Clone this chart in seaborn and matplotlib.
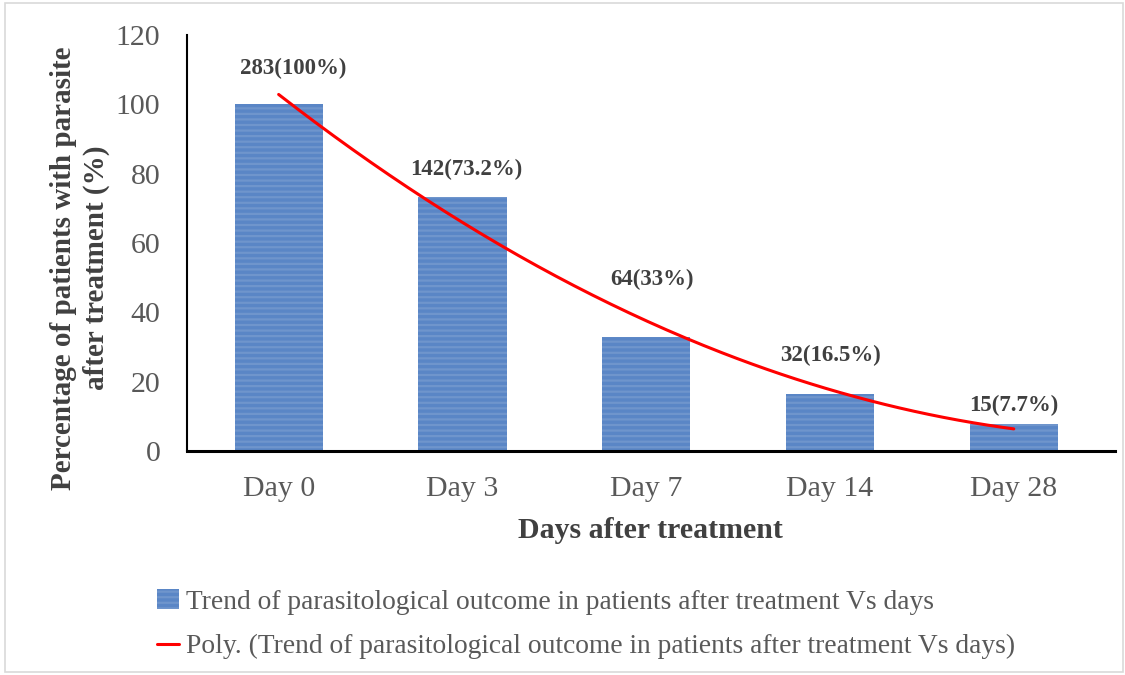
import numpy as np
import pandas as pd
import matplotlib
matplotlib.use("Agg")
import matplotlib.pyplot as plt
import seaborn as sns
from matplotlib.patches import Rectangle

# Data
days = ["Day 0", "Day 3", "Day 7", "Day 14", "Day 28"]
percent = [100, 73.2, 33, 16.5, 7.7]
counts = [283, 142, 64, 32, 15]
bar_labels = ["283(100%)", "142(73.2%)", "64(33%)", "32(16.5%)", "15(7.7%)"]

series_name = "Trend of parasitological outcome in patients after treatment Vs days"

df = pd.DataFrame({"Day": days, "Percent": percent})

sns.set_style("white")
plt.rcParams["font.family"] = ["Liberation Serif", "DejaVu Serif"]
plt.rcParams["hatch.color"] = "#B5CBEA"
plt.rcParams["hatch.linewidth"] = 1.6

fig = plt.figure(figsize=(11.25, 6.75), dpi=100)
ax = fig.add_axes([0.166, 0.332, 0.825, 0.616])

sns.barplot(data=df, x="Day", y="Percent", color="#5A86C6", width=0.48,
            saturation=1, ax=ax, label=series_name)
for bar in ax.patches:
    bar.set_hatch("---")
    bar.set_edgecolor("#6F95CC")
    bar.set_linewidth(0)

# polynomial (order 2) trendline like Excel's
xs = np.arange(len(days))
coef = np.polyfit(xs, percent, 2)
xf = np.linspace(0, len(days) - 1, 200)
ax.plot(xf, np.polyval(coef, xf), color="#FF0000", lw=2.2,
        label="Poly. (" + series_name + ")")

# data labels (nudged like the original)
label_dx = [0.08, 0.02, 0.03, 0.0, 0.0]
label_dy = [10.5, 8, 16.5, 11, 5.5]
for i, txt in enumerate(bar_labels):
    ax.text(i + label_dx[i], percent[i] + label_dy[i], txt, ha="center", va="center",
            fontsize=16.5, fontweight="bold", color="#404040")

ax.set_ylim(0, 120)
ax.set_xlim(-0.5, 4.55)
ax.set_yticks(range(0, 121, 20))
ax.tick_params(axis="both", length=0, labelsize=21.5, labelcolor="#595959")
ax.tick_params(axis="x", pad=18)
ax.tick_params(axis="y", pad=19)

for s in ["top", "right"]:
    ax.spines[s].set_visible(False)
ax.spines["left"].set_color("black")
ax.spines["left"].set_linewidth(1.5)
ax.spines["bottom"].set_color("black")
ax.spines["bottom"].set_linewidth(2.2)

ax.set_xlabel("Days after treatment", fontsize=21.5, fontweight="bold",
              color="#404040", labelpad=11)
ax.set_ylabel("Percentage of patients with parasite\nafter treatment (%)",
              fontsize=21, fontweight="bold", color="#404040", linespacing=1.25)
ax.yaxis.set_label_coords(-0.083, 0.44)

handles, labels = ax.get_legend_handles_labels()
if ax.get_legend() is not None:
    ax.get_legend().remove()
order = sorted(range(len(labels)), key=lambda i: labels[i].startswith("Poly"))
fig.legend([handles[i] for i in order], [labels[i] for i in order],
           loc="upper left", bbox_to_anchor=(0.130, 0.143),
           frameon=False, fontsize=19.8, labelcolor="#595959",
           handlelength=0.8, handletextpad=0.25, labelspacing=0.7,
           borderaxespad=0)

# light border around the chart area
fig.patches.append(Rectangle((0.004, 0.005), 0.994, 0.99, transform=fig.transFigure,
                             fill=False, edgecolor="#D9D9D9", lw=1.2))

fig.savefig("out.png", dpi=100)
